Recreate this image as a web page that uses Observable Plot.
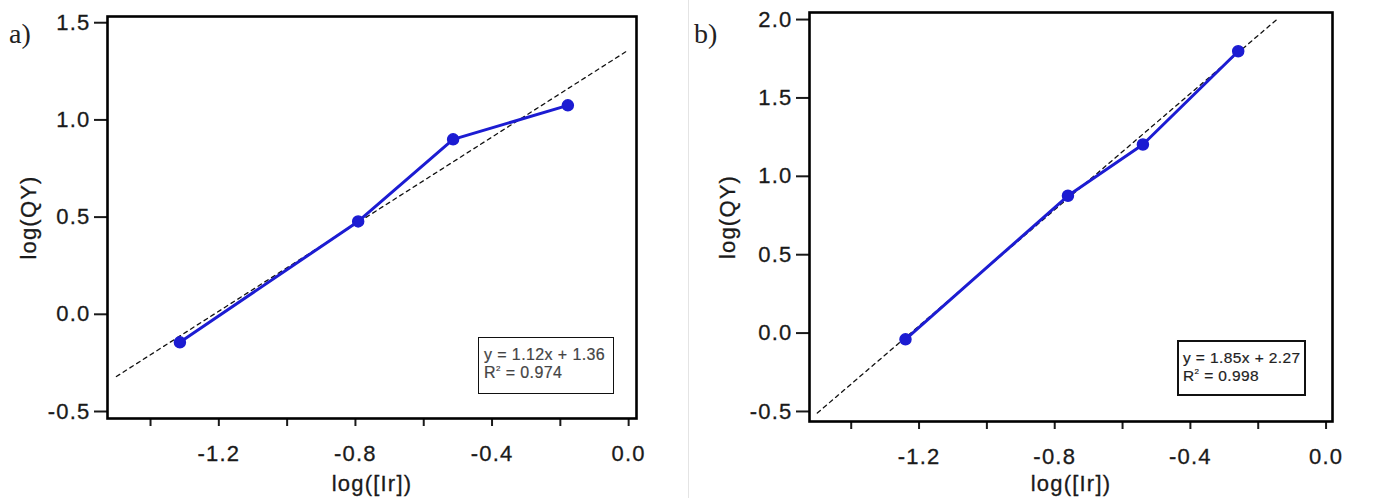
<!DOCTYPE html>
<html>
<head>
<meta charset="utf-8">
<script src="https://cdn.jsdelivr.net/npm/d3@7"></script>
<script src="https://cdn.jsdelivr.net/npm/@observablehq/plot@0.6"></script>
<style>
  html, body { margin: 0; padding: 0; background: #fff; }
  #wrap { position: relative; width: 1383px; height: 498px; overflow: hidden; }
  .panel { position: absolute; top: 0; }
  .panel svg text { stroke: currentColor; stroke-width: 0.3px; }
  .plabel { position: absolute; font-family: "Liberation Serif", "Times New Roman", serif; font-size: 28px; color: #222; line-height: 1; }
  .fitbox { position: absolute; box-sizing: border-box; border: 1.5px solid #111; background: #fff; white-space: nowrap;
            font-family: "Liberation Sans", Arial, sans-serif; font-size: 16px; letter-spacing: 0.4px; line-height: 18px; padding: 8px 0 0 5px;
            -webkit-text-stroke: 0.2px currentColor; }
  .fitbox sup { font-size: 8px; vertical-align: 7px; line-height: 0; }
  #sep { position: absolute; left: 688px; top: 0; width: 1px; height: 498px; background: #e4e4e4; }
</style>
</head>
<body>
<div id="wrap">
  <div id="sep"></div>
  <div id="pa" class="panel" style="left:0px"></div>
  <div id="pb" class="panel" style="left:690px"></div>
  <div class="plabel" style="left:9px; top:20px">a)</div>
  <div class="plabel" style="left:694px; top:20px">b)</div>
  <div class="fitbox" style="left:478px; top:337px; width:136px; height:57px; color:#444">y = 1.12x + 1.36<br>R<sup>2</sup> = 0.974</div>
  <div class="fitbox" style="left:1177px; top:340px; width:129px; height:56px; border-width:2.5px; color:#222; font-size:15.5px; padding:7px 0 0 4px">y = 1.85x + 2.27<br>R<sup>2</sup> = 0.998</div>
</div>
<script>
// ---- data ----
const xA = [-1.314, -0.792, -0.514, -0.178];
const yA = [-0.144, 0.478, 0.900, 1.075];
const fitXA = [-1.50, 0.00];
const fitYA = [-0.32, 1.36];

const xB = [-1.240, -0.761, -0.540, -0.259];
const yB = [-0.040, 0.876, 1.203, 1.798];
const fitXB = [-1.50, -0.14];
const fitYB = [-0.51, 2.01];

const xMajorTicks = [-1.4, -1.2, -1.0, -0.8, -0.6, -0.4, -0.2, 0.0];
const xLabelTicks = [-1.2, -0.8, -0.4, 0.0];
const yTicksA = [-0.5, 0.0, 0.5, 1.0, 1.5];
const yTicksB = [-0.5, 0.0, 0.5, 1.0, 1.5, 2.0];

const xLabel = "log([Ir])";
const yLabel = "log(QY)";
const lineColor = "#1c1cd2";

const fmt = d => d.toFixed(1);

function panel({xs, ys, fx, fy, yTicks, xDomain, yDomain, width, marginLeft, marginRight, marginTop, marginBottom, yLabelOffset, xLabelOffset}) {
  const pts = xs.map((x, i) => ({x, y: ys[i]}));
  const fit = fx.map((x, i) => ({x, y: fy[i]}));
  return Plot.plot({
    width, height: 498,
    marginLeft, marginRight, marginTop, marginBottom,
    style: {fontFamily: "'Liberation Sans', Arial, sans-serif", fontSize: "22px", letterSpacing: "1.2px", color: "#1a1a1a", background: "transparent", overflow: "visible"},
    x: {domain: xDomain},
    y: {domain: yDomain},
    marks: [
      Plot.axisY({ticks: yTicks, tickSize: 13, tickPadding: 4, tickFormat: fmt, strokeWidth: 2,
                  fontSize: 22, label: yLabel, labelAnchor: "center", labelArrow: "none", labelOffset: yLabelOffset}),
      Plot.axisX({ticks: xMajorTicks, tickSize: 8, tickFormat: () => "", strokeWidth: 2, label: null}),
      Plot.axisX({ticks: xLabelTicks, tickSize: 0, tickPadding: 27, tickFormat: fmt, fontSize: 22,
                  label: xLabel, labelAnchor: "center", labelArrow: "none", labelOffset: xLabelOffset}),
      Plot.line(fit, {x: "x", y: "y", stroke: "#111", strokeWidth: 1.3, strokeDasharray: "4,4"}),
      Plot.line(pts, {x: "x", y: "y", stroke: lineColor, strokeWidth: 3}),
      Plot.dot(pts, {x: "x", y: "y", r: 5.5, fill: lineColor, stroke: lineColor}),
      Plot.frame({stroke: "#000", strokeWidth: 2.6})
    ]
  });
}

document.getElementById("pa").appendChild(panel({
  xs: xA, ys: yA, fx: fitXA, fy: fitYA, yTicks: yTicksA,
  xDomain: [-1.526, 0.023], yDomain: [-0.536, 1.532],
  width: 690, marginLeft: 107, marginRight: 54, marginTop: 16, marginBottom: 80, yLabelOffset: 87, xLabelOffset: 72
}));

document.getElementById("pb").appendChild(panel({
  xs: xB, ys: yB, fx: fitXB, fy: fitYB, yTicks: yTicksB,
  xDomain: [-1.523, 0.019], yDomain: [-0.564, 2.045],
  width: 693, marginLeft: 119, marginRight: 51, marginTop: 12, marginBottom: 77, yLabelOffset: 90, xLabelOffset: 69
}));
</script>
</body>
</html>
